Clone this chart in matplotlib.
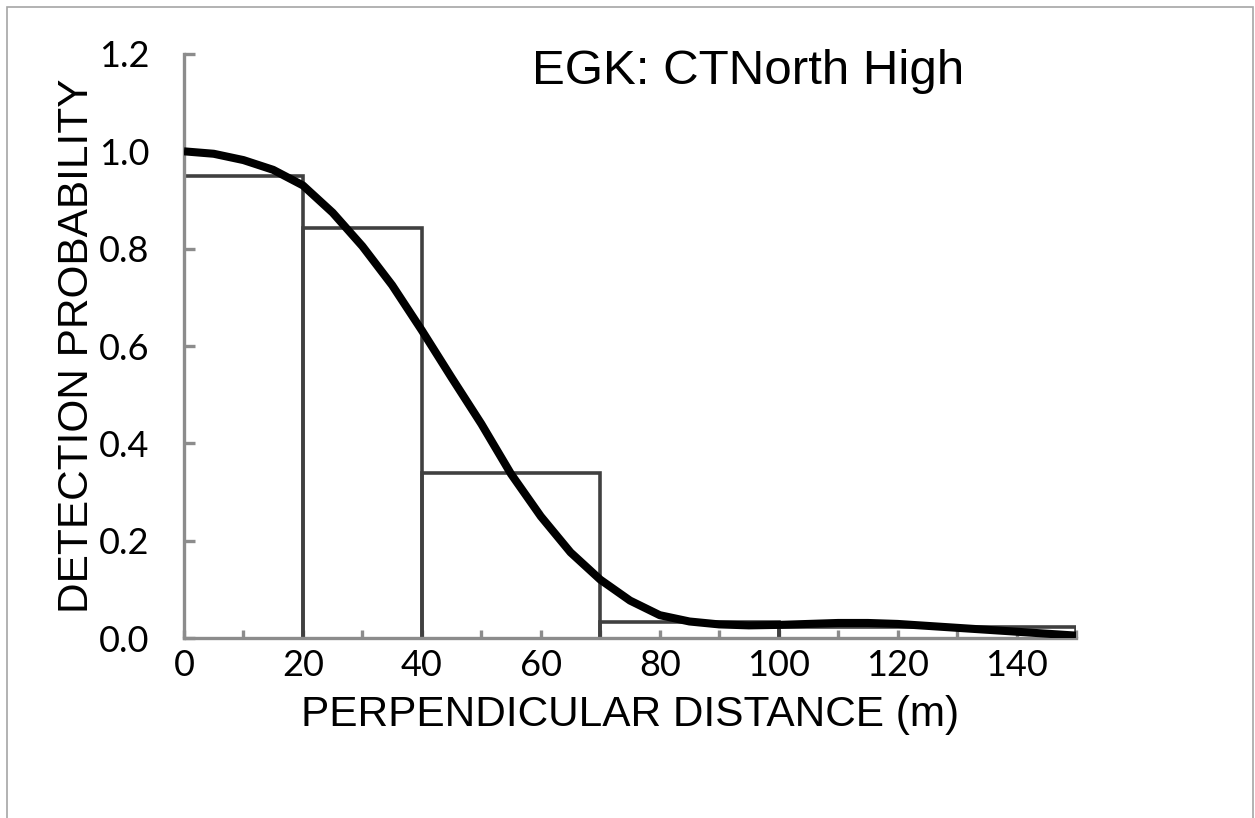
import matplotlib
matplotlib.use('Agg')
import matplotlib.pyplot as plt
from matplotlib.patches import Rectangle

# histogram bins (edges) and bar heights
bin_edges = [0, 20, 40, 70, 100, 150]
bar_heights = [0.95, 0.842, 0.339, 0.033, 0.023]

# fitted detection function
curve_x = [0, 5, 10, 15, 20, 25, 30, 35, 40, 45, 50, 55, 60, 65, 70, 75,
           80, 85, 90, 95, 100, 105, 110, 115, 120, 125, 130, 135, 140, 145, 150]
curve_y = [1.0, 0.995, 0.982, 0.962, 0.93, 0.874, 0.805, 0.725, 0.632, 0.535,
           0.44, 0.337, 0.25, 0.176, 0.12, 0.077, 0.047, 0.034, 0.028, 0.026,
           0.027, 0.029, 0.031, 0.031, 0.029, 0.025, 0.021, 0.017, 0.013, 0.009, 0.005]

x_ticks = [0, 20, 40, 60, 80, 100, 120, 140]
y_ticks = [0.0, 0.2, 0.4, 0.6, 0.8, 1.0, 1.2]

fig = plt.figure(figsize=(12.55, 8.18), dpi=100)
ax = fig.add_axes([0.1466, 0.22, 0.7108, 0.714])

bar_col = '#404040'
axis_col = '#8c8c8c'

# outlined bars
for i in range(len(bar_heights)):
    x0, x1, h = bin_edges[i], bin_edges[i + 1], bar_heights[i]
    ax.plot([x0, x0, x1, x1], [0, h, h, 0], color=bar_col, lw=2.6,
            solid_joinstyle='miter', zorder=2)

ax.plot(curve_x, curve_y, color='black', lw=5.8, solid_capstyle='butt',
        solid_joinstyle='round', zorder=3)

ax.set_xlim(0, 150)
ax.set_ylim(0, 1.2)
ax.set_xticks(x_ticks)
ax.set_xticks(range(0, 151, 10), minor=True)
ax.set_yticks(y_ticks)
ax.set_yticklabels(['%.1f' % v for v in y_ticks])

for s in ['top', 'right']:
    ax.spines[s].set_visible(False)
for s in ['left', 'bottom']:
    ax.spines[s].set_color(axis_col)
    ax.spines[s].set_linewidth(2.4)

ax.tick_params(axis='x', which='both', direction='in', length=6, width=2.4,
               color=axis_col, pad=8, labelsize=26)
ax.tick_params(axis='y', direction='in', length=8, width=2.4,
               color=axis_col, pad=25, labelsize=26)
for lab in ax.get_xticklabels() + ax.get_yticklabels():
    lab.set_fontfamily('Lato')

ax.set_xlabel('PERPENDICULAR DISTANCE (m)', fontsize=30.5, family='Liberation Sans', labelpad=9)
ax.set_ylabel('DETECTION PROBABILITY', fontsize=30.5, family='Liberation Sans', labelpad=1)

fig.text(0.596, 0.912, 'EGK: CTNorth High', fontsize=35.5, family='Liberation Sans',
         ha='center', va='center')

# thin frame round the figure
fig.patches.append(Rectangle((7 / 1255, -0.01), 1246 / 1255, 1.0 - 7 / 818 + 0.01,
                             transform=fig.transFigure, fill=False,
                             edgecolor='#a6a6a6', lw=1.2))

fig.savefig('out.png', dpi=100)
